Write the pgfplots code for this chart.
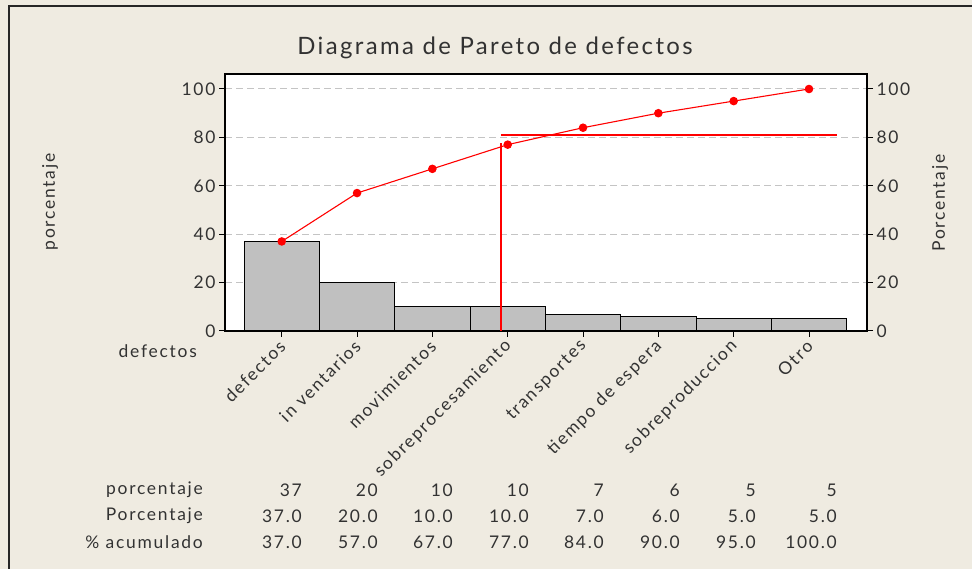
\documentclass[border=0pt]{standalone}
\usepackage{fontspec}
\setmainfont[LetterSpace=10]{Lato}
\usepackage{pgfplots}
\usepackage{pgfplotstable}
\pgfplotsset{compat=1.18}

\definecolor{bgbeige}{RGB}{239,235,225}
\definecolor{txt}{RGB}{50,50,50}
\definecolor{barfill}{RGB}{192,192,192}
\definecolor{gridc}{RGB}{196,196,196}

% categories at 0..7
\pgfplotstableread{
x pct cum
0 37 37
1 20 57
2 10 67
3 10 77
4 7 84
5 6 90
6 5 95
7 5 100
}\pareto

\newcommand{\fs}{\fontsize{17.5}{20}\selectfont}

\begin{document}
\begin{tikzpicture}[x=1bp, y=1bp]
\useasboundingbox (0,0) rectangle (972,569);
\fill[bgbeige] (0,0) rectangle (972,569);
\draw[line width=2bp, black!85] (9,0) -- (9,563) -- (972,563);

\begin{axis}[
    at={(225bp,238bp)}, anchor=south west,
    scale only axis, width=642bp, height=257bp,
    xmin=-0.753, xmax=7.77,
    ymin=0, ymax=106.2,
    xtick={0,...,7},
    xticklabels={defectos, in ventarios, movimientos, sobreprocesamiento, transportes, tiempo de espera, sobreproduccion, Otro},
    ytick={0,20,...,100},
    xtick pos=bottom, ytick pos=left,
    tick align=outside,
    major tick length=6bp,
    axis line style={line width=1.1bp},
    tick style={line width=1bp, black},
    ymajorgrids,
    major grid style={gridc, line width=1bp, dash pattern=on 7bp off 4bp},
    axis background/.style={fill=white},
    ticklabel style={font=\fs, text=txt},
    /pgf/number format/assume math mode=true,
    xticklabel style={rotate=45, anchor=east, inner sep=1bp, xshift=-3bp, yshift=-5bp},
    clip=false,
]
% bars
\addplot[ybar, bar width=1, fill=barfill, draw=black, line width=1bp] table[x=x, y=pct] {\pareto};
% 80% reference lines
\addplot[red, line width=1.4bp] coordinates {(2.91,0) (2.91,77.6)};
\addplot[red, line width=1.4bp] coordinates {(2.91,81) (7.37,81)};
% cumulative line
\addplot[red, line width=1.1bp, mark=*, mark size=3.7bp, mark options={fill=red, draw=red}] table[x=x, y=cum] {\pareto};
\end{axis}

\begin{axis}[
    at={(225bp,238bp)}, anchor=south west,
    scale only axis, width=642bp, height=257bp,
    xmin=-0.753, xmax=7.77,
    ymin=0, ymax=106.2,
    axis x line=none,
    axis y line*=right,
    ytick={0,20,...,100},
    tick align=outside,
    major tick length=6bp,
    axis line style={line width=1.1bp, -},
    tick style={line width=1bp, black},
    ticklabel style={font=\fs, text=txt},
    /pgf/number format/assume math mode=true,
]
\addplot[draw=none] coordinates {(0,0)};
\end{axis}

% titles and labels
\node[text=txt, font=\fontsize{24}{28}\selectfont] at (495,521) {Diagrama de Pareto de defectos};
\node[text=txt, font=\fs, rotate=90] at (50,367) {porcentaje};
\node[text=txt, font=\fs, rotate=90] at (940,366) {Porcentaje};
\node[text=txt, font=\fs, anchor=east, inner sep=0] at (197,218) {defectos};

% summary table
\node[text=txt, font=\fs, anchor=east, inner sep=0] at (203,79) {porcentaje};
\node[text=txt, font=\fs, anchor=east, inner sep=0] at (203,53) {Porcentaje};
\node[text=txt, font=\fs, anchor=east, inner sep=0] at (203,27) {\% acumulado};
\foreach \xr/\a/\b/\c in {302/37/37.0/37.0, 378/20/20.0/57.0, 453/10/10.0/67.0, 529/10/10.0/77.0, 604/7/7.0/84.0, 680/6/6.0/90.0, 756/5/5.0/95.0, 837/5/5.0/100.0}{
  \node[text=txt, font=\fs, anchor=east, inner sep=0] at (\xr,79) {\a};
  \node[text=txt, font=\fs, anchor=east, inner sep=0] at (\xr,53) {\b};
  \node[text=txt, font=\fs, anchor=east, inner sep=0] at (\xr,27) {\c};
}
\end{tikzpicture}
\end{document}
